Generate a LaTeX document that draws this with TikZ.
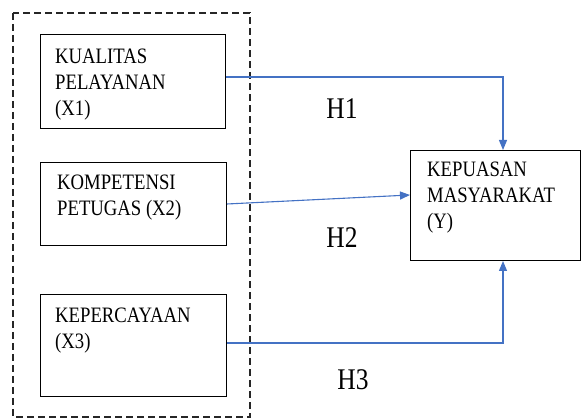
\documentclass[tikz,border=0pt]{standalone}
\usepackage{fontspec}
\setmainfont{Liberation Serif}[FakeStretch=0.85]
\usetikzlibrary{positioning, arrows.meta}
\definecolor{pathblue}{HTML}{4472C4}

\begin{document}
\begin{tikzpicture}[x=1pt, y=-1pt,
        box/.style={rectangle, draw=black, line width=1pt, anchor=north west, inner sep=0pt},
        boxtext/.style={anchor=north west, inner sep=0pt, align=left, font=\fontsize{22}{26}\selectfont},
        hlabel/.style={inner sep=0pt, font=\fontsize{30}{32}\selectfont},
        arr/.style={-{Triangle[length=10pt, width=8pt]}, line width=1.1pt, pathblue}]
      \useasboundingbox (0,0) rectangle (582,419);
      % Variable group
      \draw[dashed, dash pattern=on 7pt off 4pt, line width=1.3pt, black!85] (13,13) rectangle (250,417);
      \node[box, minimum width=185pt, minimum height=94pt] (x1) at (40,34) {};
      \node[boxtext] (x1text) at (55,49) {KUALITAS\\PELAYANAN\\(X1)};
      \node[box, minimum width=186pt, minimum height=83pt] (x2) at (40,162) {};
      \node[boxtext] (x2text) at (57,175) {KOMPETENSI\\PETUGAS (X2)};
      \node[box, minimum width=186pt, minimum height=102pt] (x3) at (40,294) {};
      \node[boxtext] (x3text) at (55,308) {KEPERCAYAAN\\(X3)};
      \node[box, minimum width=170pt, minimum height=110pt] (y) at (410,150) {};
      \node[boxtext] (ytext) at (427,162) {KEPUASAN\\MASYARAKAT\\(Y)};
      
      % Hypothesis paths
      \coordinate (h1bend) at (503,77);
      \coordinate (h2end) at (410,195);
      \coordinate (h3bend) at (503,343);
      \draw[arr] (x1.east |- h1bend) -- (h1bend) -- (h1bend |- y.north);
      \draw[arr] (x2.east) -- (h2end);
      \draw[arr] (x3.east |- h3bend) -- (h3bend) -- (h3bend |- y.south);
      
      \node[hlabel] (h1) at (342,109) {H1};
      \node[hlabel] (h2) at (342,238) {H2};
      \node[hlabel] (h3) at (353,380) {H3};
    \end{tikzpicture}
\end{document}
